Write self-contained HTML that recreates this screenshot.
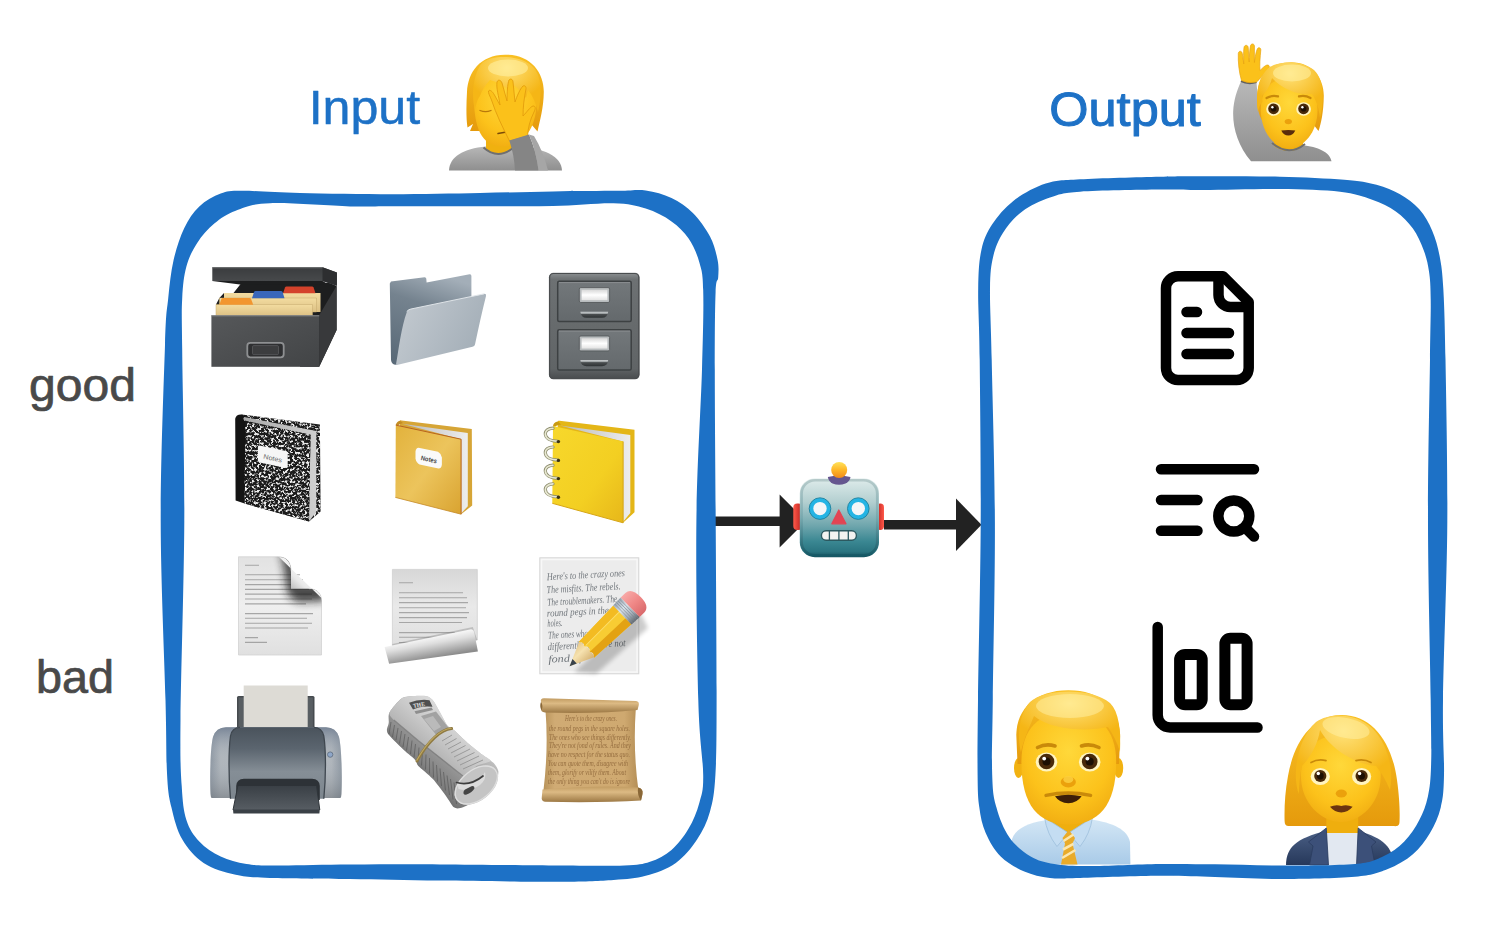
<!DOCTYPE html>
<html lang="en"><head><meta charset="utf-8"><title>Input / Output diagram</title>
<style>
html,body{margin:0;padding:0;background:#fff;width:1488px;height:933px;overflow:hidden}
svg{display:block;position:absolute;left:0;top:0}
text{font-family:"Liberation Sans",sans-serif}
.sf,.sf text{font-family:"Liberation Serif",serif}
</style></head><body>
<svg width="1488" height="933" viewBox="0 0 1488 933">
<!-- defs -->
<defs>
<linearGradient id="rbBody" x1="0" y1="0" x2="0" y2="1">
<stop offset="0" stop-color="#dfeceb"/><stop offset=".3" stop-color="#b3cfd0"/><stop offset=".6" stop-color="#6fa6ad"/><stop offset=".8" stop-color="#3a8792"/><stop offset=".93" stop-color="#2a7480"/><stop offset="1" stop-color="#154f5b"/>
</linearGradient>
<linearGradient id="rbBall" x1="0" y1="0" x2="0" y2="1"><stop offset="0" stop-color="#ffe25a"/><stop offset=".5" stop-color="#ffb627"/><stop offset="1" stop-color="#f08a1c"/></linearGradient>
<linearGradient id="rbEar" x1="0" y1="0" x2="1" y2="0"><stop offset="0" stop-color="#ff5a4a"/><stop offset="1" stop-color="#b81c1c"/></linearGradient>
<linearGradient id="rbEarR" x1="1" y1="0" x2="0" y2="0"><stop offset="0" stop-color="#ff5a4a"/><stop offset="1" stop-color="#b81c1c"/></linearGradient>
<radialGradient id="skin" cx=".5" cy=".35" r=".75"><stop offset="0" stop-color="#ffd83a"/><stop offset=".6" stop-color="#fcc21b"/><stop offset="1" stop-color="#eda60f"/></radialGradient>
<linearGradient id="hair" x1="0" y1="0" x2="0" y2="1"><stop offset="0" stop-color="#f9c022"/><stop offset="1" stop-color="#e59a0c"/></linearGradient>
<radialGradient id="hairHi" cx=".5" cy=".2" r=".6"><stop offset="0" stop-color="#ffe27a"/><stop offset="1" stop-color="#f5b616"/></radialGradient>
<linearGradient id="greyShirt" x1="0" y1="0" x2="0" y2="1"><stop offset="0" stop-color="#b8b8b8"/><stop offset="1" stop-color="#8f8f8f"/></linearGradient>
<linearGradient id="blueShirt" x1="0" y1="0" x2="0" y2="1"><stop offset="0" stop-color="#d3e6f5"/><stop offset="1" stop-color="#a9cbe8"/></linearGradient>
<linearGradient id="navy" x1="0" y1="0" x2="0" y2="1"><stop offset="0" stop-color="#4a5f85"/><stop offset="1" stop-color="#26385a"/></linearGradient>
</defs>
<defs>
<linearGradient id="cbFront" x1="0" y1="0" x2="1" y2="1"><stop offset="0" stop-color="#56585a"/><stop offset="1" stop-color="#424446"/></linearGradient>
<linearGradient id="cbLid" x1="0" y1="0" x2="0" y2="1"><stop offset="0" stop-color="#3a3c3e"/><stop offset="1" stop-color="#4c4e50"/></linearGradient>
<linearGradient id="tan" x1="0" y1="0" x2="0" y2="1"><stop offset="0" stop-color="#f3dca0"/><stop offset="1" stop-color="#dcc084"/></linearGradient>
<linearGradient id="fdBack" x1=".6" y1="0" x2=".3" y2="1"><stop offset="0" stop-color="#a3aeb8"/><stop offset=".35" stop-color="#75838f"/><stop offset="1" stop-color="#5a6a78"/></linearGradient>
<linearGradient id="fdFront" x1="0" y1=".3" x2="1" y2=".7"><stop offset="0" stop-color="#c2c9cf"/><stop offset=".5" stop-color="#b2bbc3"/><stop offset="1" stop-color="#a2adb6"/></linearGradient>
<linearGradient id="cabBody" x1="0" y1="0" x2="0" y2="1"><stop offset="0" stop-color="#8c9092"/><stop offset=".06" stop-color="#6d7173"/><stop offset=".9" stop-color="#606466"/><stop offset="1" stop-color="#484b4d"/></linearGradient>
<linearGradient id="cabDr" x1="0" y1="0" x2="0" y2="1"><stop offset="0" stop-color="#73787b"/><stop offset="1" stop-color="#64696c"/></linearGradient>
<linearGradient id="cabLbl" x1="0" y1="0" x2="0" y2="1"><stop offset="0" stop-color="#d9d9d9"/><stop offset=".5" stop-color="#ffffff"/><stop offset="1" stop-color="#e3e3e3"/></linearGradient>
<linearGradient id="cabHd" x1="0" y1="0" x2="0" y2="1"><stop offset="0" stop-color="#cdd1d3"/><stop offset=".28" stop-color="#9da2a4"/><stop offset=".42" stop-color="#4a4e50"/><stop offset="1" stop-color="#2e3234"/></linearGradient>
</defs>
<defs>
<filter id="marble" x="0" y="0" width="1" height="1" color-interpolation-filters="sRGB">
<feTurbulence type="fractalNoise" baseFrequency="0.42" numOctaves="2" seed="7" result="n"/>
<feColorMatrix in="n" type="matrix" values="0 0 0 0 0  0 0 0 0 0  0 0 0 0 0  6 0 0 0 -2.88" result="a"/>
<feFlood flood-color="#ececec"/><feComposite in2="a" operator="in" result="w"/>
<feComposite in="w" in2="SourceGraphic" operator="in" result="wc"/>
<feMerge><feMergeNode in="SourceGraphic"/><feMergeNode in="wc"/></feMerge>
</filter>
<linearGradient id="nbY" x1="0" y1="0" x2="1" y2="1"><stop offset="0" stop-color="#e2b23c"/><stop offset=".5" stop-color="#ecc45c"/><stop offset="1" stop-color="#d9a330"/></linearGradient>
<linearGradient id="nbPages" x1="0" y1="0" x2="1" y2="0"><stop offset="0" stop-color="#b9b9b9"/><stop offset="1" stop-color="#ededed"/></linearGradient>
<linearGradient id="spY" x1="0" y1="0" x2="1" y2="1"><stop offset="0" stop-color="#f7d82c"/><stop offset=".6" stop-color="#f3cf22"/><stop offset="1" stop-color="#e7b71a"/></linearGradient>
</defs>
<defs>
<linearGradient id="pgFill" x1="0" y1="0" x2="0" y2="1"><stop offset="0" stop-color="#e2e2e2"/><stop offset=".5" stop-color="#efefef"/><stop offset="1" stop-color="#e0e0e0"/></linearGradient>
<radialGradient id="curlSh" cx="300" cy="578" r="34" gradientUnits="userSpaceOnUse"><stop offset="0" stop-color="#3c3c3c" stop-opacity=".95"/><stop offset=".45" stop-color="#555" stop-opacity=".6"/><stop offset="1" stop-color="#888" stop-opacity="0"/></radialGradient>
<linearGradient id="curlFlap" x1="291" y1="589" x2="306" y2="573" gradientUnits="userSpaceOnUse"><stop offset="0" stop-color="#bdbdbd"/><stop offset=".5" stop-color="#e9e9e9"/><stop offset="1" stop-color="#f7f7f7"/></linearGradient>
<linearGradient id="rollG" x1="430" y1="636" x2="434" y2="658" gradientUnits="userSpaceOnUse"><stop offset="0" stop-color="#fbfbfb"/><stop offset=".35" stop-color="#dedede"/><stop offset="1" stop-color="#8c8c8c"/></linearGradient>
<linearGradient id="pcBody" x1="0" y1="-11" x2="0" y2="11" gradientUnits="userSpaceOnUse"><stop offset="0" stop-color="#f4b81c"/><stop offset=".3" stop-color="#f9c62a"/><stop offset=".33" stop-color="#fddc60"/><stop offset=".62" stop-color="#fbd246"/><stop offset=".66" stop-color="#eba514"/><stop offset="1" stop-color="#dd930c"/></linearGradient>
<linearGradient id="pcEr" x1="0" y1="-13.5" x2="0" y2="13.5" gradientUnits="userSpaceOnUse"><stop offset="0" stop-color="#f7a8a6"/><stop offset=".5" stop-color="#ef8786"/><stop offset="1" stop-color="#d96a6c"/></linearGradient>
<linearGradient id="pcFe" x1="0" y1="-13.5" x2="0" y2="13.5" gradientUnits="userSpaceOnUse"><stop offset="0" stop-color="#9aa6b2"/><stop offset=".35" stop-color="#d9e2ea"/><stop offset=".7" stop-color="#a4aeb8"/><stop offset="1" stop-color="#5f666d"/></linearGradient>
<linearGradient id="pcWood" x1="0" y1="-11" x2="0" y2="11" gradientUnits="userSpaceOnUse"><stop offset="0" stop-color="#e6c88a"/><stop offset=".4" stop-color="#f6e2b0"/><stop offset="1" stop-color="#d4b070"/></linearGradient>
<linearGradient id="prBody" x1="0" y1="0" x2="0" y2="1"><stop offset="0" stop-color="#4a535c"/><stop offset=".3" stop-color="#5b656f"/><stop offset=".62" stop-color="#858e96"/><stop offset="1" stop-color="#7d868e"/></linearGradient>
<linearGradient id="prSideL" x1="0" y1="0" x2="1" y2="0"><stop offset="0" stop-color="#8d97a2"/><stop offset=".08" stop-color="#b0b6bc"/><stop offset=".5" stop-color="#b4babf"/><stop offset=".92" stop-color="#b0b6bc"/><stop offset="1" stop-color="#8d97a2"/></linearGradient>
<linearGradient id="prSideV" x1="0" y1="0" x2="0" y2="1"><stop offset="0" stop-color="#66758a" stop-opacity=".75"/><stop offset=".45" stop-color="#b0b8c0" stop-opacity="0"/><stop offset="1" stop-color="#6c7278" stop-opacity=".55"/></linearGradient>
<linearGradient id="prTray" x1="0" y1="0" x2="0" y2="1"><stop offset="0" stop-color="#3a4046"/><stop offset="1" stop-color="#575d63"/></linearGradient>
<linearGradient id="npBody" x1="462" y1="728" x2="420" y2="776" gradientUnits="userSpaceOnUse"><stop offset="0" stop-color="#c6c6c6"/><stop offset=".45" stop-color="#9e9e9e"/><stop offset="1" stop-color="#757575"/></linearGradient>
<linearGradient id="npFlap" x1="462" y1="722" x2="432" y2="758" gradientUnits="userSpaceOnUse"><stop offset="0" stop-color="#dcdcdc"/><stop offset=".5" stop-color="#c9c9c9"/><stop offset="1" stop-color="#b0b0b0"/></linearGradient>
<linearGradient id="scBody" x1="0" y1="0" x2="1" y2="0"><stop offset="0" stop-color="#b8935a"/><stop offset=".12" stop-color="#d0ab74"/><stop offset=".85" stop-color="#cfa970"/><stop offset="1" stop-color="#b48e56"/></linearGradient>
<linearGradient id="scRoll" x1="0" y1="0" x2="0" y2="1"><stop offset="0" stop-color="#c29c62"/><stop offset=".35" stop-color="#dcba84"/><stop offset="1" stop-color="#9c7844"/></linearGradient>
</defs>
<defs><filter id="blur2" x="-.2" y="-.2" width="1.4" height="1.4"><feGaussianBlur stdDeviation="2.2"/></filter><filter id="blur4" x="-.4" y="-.4" width="1.8" height="1.8"><feGaussianBlur stdDeviation="4.2"/></filter><filter id="blur1" x="-.2" y="-.2" width="1.4" height="1.4"><feGaussianBlur stdDeviation="1"/></filter></defs>
<defs><linearGradient id="pgFill2" x1="0" y1="0" x2="0" y2="1"><stop offset="0" stop-color="#d7d7d7"/><stop offset=".45" stop-color="#e9e9e9"/><stop offset="1" stop-color="#dedede"/></linearGradient></defs>
<defs><linearGradient id="rbRim" x1="0" y1="0" x2="0" y2="1"><stop offset="0" stop-color="#b4c9c9"/><stop offset=".5" stop-color="#6c9fa6" stop-opacity=".6"/><stop offset="1" stop-color="#165966"/></linearGradient></defs>
<defs><linearGradient id="nbPagesD" x1="0" y1="0" x2="1" y2="0"><stop offset="0" stop-color="#a8a8a8"/><stop offset="1" stop-color="#cfcfcf"/></linearGradient></defs>

<!-- text -->
<g fill="#1d71c6" stroke="#1d71c6" stroke-linejoin="round" font-size="47.5">
<text x="308.7" y="124" textLength="111.5" lengthAdjust="spacingAndGlyphs" stroke-width=".5">Input</text>
<text x="1049.3" y="126.2" textLength="151.5" lengthAdjust="spacingAndGlyphs" stroke-width="1">Output</text>
</g>
<g fill="#494949" stroke="#494949" stroke-width=".7" stroke-linejoin="round" font-size="45.5">
<text x="29" y="400.5" textLength="107" lengthAdjust="spacingAndGlyphs">good</text>
<text x="36" y="692.5" textLength="78" lengthAdjust="spacingAndGlyphs">bad</text>
</g>

<!-- arrows -->
<g fill="#222">
<rect x="714" y="516.5" width="70" height="9.5"/>
<path d="M779.6,494.5 L806,521 L779.6,547.5Z"/>
<rect x="884" y="520" width="76" height="9.5"/>
<path d="M956,498.5 L981.5,524.8 L956,551Z"/>
</g>

<!-- lineicons -->
<g fill="none" stroke="#000" stroke-width="10.5" stroke-linecap="round" stroke-linejoin="round">
<!-- document -->
<path d="M1178,276.300 H1223 L1248.7,302 V368 a12,12 0 0 1 -12,12 H1178 a12,12 0 0 1 -12,-12 V288.300 a12,12 0 0 1 12,-12Z"/>
<path d="M1218.500,277 V295 a12,12 0 0 0 12,12 H1247.500"/>
<path d="M1186.5,312 H1197 M1186.5,333 H1229 M1186.5,354 H1229"/>
<!-- search list -->
<path d="M1161,469.3 H1254 M1161,500 H1197.5 M1161,530.8 H1197.5"/>
<circle cx="1233.8" cy="516" r="15.5"/>
<path d="M1245,527.5 L1254,536.5"/>
<!-- bar chart -->
<path d="M1157.7,627 V715 a12.5,12.5 0 0 0 12.5,12.5 H1257.5"/>
<rect x="1179.6" y="654.4" width="22.6" height="50.4" rx="5.500" stroke-width="11"/>
<rect x="1224.9" y="638.2" width="22.2" height="66.6" rx="5.500" stroke-width="11"/>
</g>

<!-- robot -->
<g>
<rect x="793.3" y="503.5" width="9" height="26.5" rx="4" fill="url(#rbEar)"/>
<rect x="876.5" y="503.5" width="7.5" height="26.5" rx="3.7" fill="url(#rbEarR)"/>
<rect x="799.8" y="478.4" width="79.2" height="78.8" rx="15" fill="url(#rbBody)"/>
<rect x="801.600" y="480.200" width="75.600" height="75.200" rx="13.500" fill="none" stroke="url(#rbRim)" stroke-width="2.600"/>
<path d="M827.800,477 Q839,474.500 850.500,477 Q850,481 845.500,483.600 Q839,486 832.500,483.600 Q828.500,481 827.800,477Z" fill="#65568f"/>
<circle cx="839.2" cy="470" r="8" fill="url(#rbBall)"/>
<circle cx="820" cy="508.6" r="8.7" fill="#f4f6f8" stroke="#25b4e4" stroke-width="4"/>
<circle cx="858.3" cy="508.6" r="8.7" fill="#f4f6f8" stroke="#25b4e4" stroke-width="4"/>
<circle cx="820" cy="508.6" r="10.800" fill="none" stroke="#1a7f9c" stroke-width=".9"/>
<circle cx="858.3" cy="508.6" r="10.800" fill="none" stroke="#1a7f9c" stroke-width=".9"/>
<path d="M838.8,510 L846,523.8 H831.8Z" fill="#e24453" stroke="#e24453" stroke-width="1.2" stroke-linejoin="round"/>
<rect x="821.4" y="530.8" width="35" height="9.4" rx="4.7" fill="#f3f3f1" stroke="#2c5960" stroke-width="1.4"/>
<path d="M829.4,531 V540 M838.9,531 V540 M848.3,531 V540" stroke="#2c5960" stroke-width="1.3"/>
</g>

<!-- people -->
<!-- facepalm -->
<g>
<path d="M449,170.4 C449.5,157 463,148.5 486,146.5 L512,146 C545,147 561.5,157 562,170.4Z" fill="url(#greyShirt)"/>
<path d="M486,136 H512 V149 Q498,159 486,149Z" fill="#f0b10f"/>
<path d="M483.5,147.5 Q498,160.5 513.5,147.5" fill="none" stroke="#6f6f6f" stroke-width="2"/>
<path d="M505,54.7 C530,54 544,72 543.8,92 C543.6,108 540,120 537.5,131.5 L531,124 L529,131 L470,131 L473,124 L467.5,127.5 C466,118 466.3,104 467,92 C468,72 480,55 505,54.7Z" fill="url(#hair)"/>
<path d="M474,100 C474,82 485,72 504,72 C524,72 536.3,84 536.3,104 C536.3,130 521,146.500 503,146.500 C485,146.500 474.500,134 474,100Z" fill="url(#skin)"/>
<path d="M483,62 C494,54 522,55 534,68 C542,78 542,95 538,112 C536,104 533,96 528,90 L526,98 C522,92 516,86 510,83 L511,92 C505,86 498,82 490,80 C486,84 482,90 480,96 C478,98 476,104 475,110 C471,96 473,72 483,62Z" fill="url(#hairHi)"/>
<ellipse cx="508" cy="68" rx="20" ry="8.5" fill="#fff2a8" opacity=".55"/>
<path d="M480,110.5 Q485.5,112.8 491,110.5" fill="none" stroke="#b8780a" stroke-width="1.3" stroke-linecap="round"/>
<path d="M498,133.5 L505,132.3" fill="none" stroke="#7a4a08" stroke-width="1.5" stroke-linecap="round"/>
<path d="M509.5,141 C503,128 496,114 491.5,100 C490,96 488,93 488.5,91 C490,89 493,92 495,96 L500,105 C499,97 496,88 497,82 C498,79 501,80 502,83 L507,101 C507,93 507.5,84 509,80 C510.5,78 513,79.5 513,82 L515,102 C517,96 520,89 523,86 C525,85 526.5,87 526,89 C524,98 523,108 523,116 C527,112 530,107 533,106 C536,106 535.5,109 534,112 C530,120 528,128 527.5,136 L509.5,141Z" fill="#fbc11a" stroke="#e39d0c" stroke-width=".9" stroke-linejoin="round"/>
<path d="M509.3,140.5 L529,134.5 C534,146 537,158 538.5,170.4 L515,170.4 C514.5,160 512.5,150 509.3,140.5Z" fill="#858585"/>
<path d="M529,134.5 C534,146 537,158 538.5,170.4 L548,170.4 C545,158 540,146 534,136Z" fill="#a6a6a6"/>
</g>
<!-- raising hand -->
<g>
<path d="M1241,81.5 L1256.5,82.5 C1257.5,100 1262,118 1272,130 C1282,140 1296,144 1302,145 C1318,147 1330,152 1331.5,161.3 L1251,161.3 C1238,146 1232.5,128 1233.2,111 C1233.8,100 1237,90 1241,81.5Z" fill="url(#greyShirt)"/>
<path d="M1241,81 Q1248,84.5 1256.5,82" fill="none" stroke="#5f5f5f" stroke-width="2.2"/>
<path d="M1241.5,80.5 C1239,72 1238,62 1238.3,53.5 C1238.6,50.5 1241.8,50.5 1242.3,53.5 L1243.8,64 C1243.6,58 1243.4,52 1244,47.5 C1244.5,44.6 1247.8,44.6 1248.2,47.5 L1249.2,62 C1249.4,56 1249.6,49.5 1250.5,45.8 C1251,43.2 1254.3,43.4 1254.4,46 L1254.4,62.5 C1255,57 1256,52 1257.3,49 C1258.3,46.8 1261,47.6 1260.8,50 C1260,58 1259.5,65 1260,70.5 C1262.5,68 1265,65.5 1267,65 C1269.5,64.7 1270,67 1268.6,68.8 C1264,74.5 1260,79 1256.5,82 Q1248.5,84 1241.5,80.5Z" fill="#fbc11a" stroke="#e8a40e" stroke-width=".7"/>
<path d="M1274,130 H1303 V146 Q1289,156 1274,146Z" fill="#efae0e"/>
<path d="M1272,143 Q1289,157 1305,144" fill="none" stroke="#6f6f6f" stroke-width="2"/>
<path d="M1291,62.2 C1312,62 1324,78 1323.8,96 C1323.6,112 1321,124 1318.5,131 L1313,124 L1262,120 C1257,112 1256.5,100 1257.5,92 C1259,74 1270,62.4 1291,62.2Z" fill="url(#hair)"/>
<path d="M1260.800,110 C1260.800,90 1271,78 1289,78 C1306,78 1317.5,90 1317.5,110 C1317.5,133 1303,148.200 1289,148.200 C1275,148.200 1260.800,133 1260.800,110Z" fill="url(#skin)"/>
<path d="M1268.5,68 C1278,60.5 1302,60 1314,70 C1323,78 1325,98 1320,118 C1319,108 1316,100 1312,94 C1300,96 1283,90 1272,78 C1270,86 1266,92 1262,96 L1262.5,102 C1260,104 1258.5,108 1258,112 C1255.5,98 1257,78 1268.5,68Z" fill="url(#hairHi)"/>
<ellipse cx="1292" cy="73" rx="19" ry="8.5" fill="#fff2a8" opacity=".55"/>
<ellipse cx="1273.6" cy="109" rx="7.4" ry="6.8" fill="#fff4c0"/><ellipse cx="1303.6" cy="109" rx="7.4" ry="6.8" fill="#fff4c0"/>
<circle cx="1273.6" cy="108.8" r="5.4" fill="#4a2a0a"/><circle cx="1303.6" cy="108.8" r="5.4" fill="#4a2a0a"/><circle cx="1273.6" cy="108.8" r="2.800" fill="#1c0f03"/><circle cx="1303.6" cy="108.8" r="2.800" fill="#1c0f03"/>
<circle cx="1272.4" cy="107.2" r="1.2" fill="#fff"/><circle cx="1302.4" cy="107.2" r="1.2" fill="#fff"/>
<path d="M1266.5,98 Q1272,94.800 1278,96.400 M1299,96.400 Q1305,94.800 1310.5,98" fill="none" stroke="#c98a0a" stroke-width="2.200" stroke-linecap="round"/>
<ellipse cx="1288.3" cy="121.6" rx="3.6" ry="2.6" fill="#eba10c"/>
<path d="M1281.3,130.6 Q1288.3,129.6 1295.3,130.6 Q1293,135.6 1288.3,135.6 Q1283.6,135.6 1281.3,130.6Z" fill="#5a2d0c"/>
</g>
<!-- man office worker -->
<g>
<path d="M1011.2,864.5 L1011.4,842 C1013,830 1026,822.500 1050,819.500 L1090,819.500 C1114,822.500 1127.500,830 1130,842 L1130.4,864.5Z" fill="url(#blueShirt)"/>
<path d="M1049,812 H1088 V826 Q1068,842 1049,826Z" fill="#efae0e"/>
<path d="M1044.5,817.5 L1068.5,833 L1057,846.5 Q1047,834 1044.5,817.5Z M1092.5,817.5 L1068.5,833 L1080,846.5 Q1090,834 1092.5,817.5Z" fill="#c4ddf2" stroke="#9dbfdc" stroke-width=".8"/>
<path d="M1068.8,830 L1075,838 L1072.5,843.5 L1077.5,864.5 H1061 L1065,843.5 L1062.5,838Z" fill="#e9ab2a"/>
<path d="M1063.5,841 L1073.5,834.5 M1062,858 L1075.5,850 M1063,849.5 L1073.5,843.8" stroke="#fbe7b0" stroke-width="2.6" fill="none"/>
<ellipse cx="1018.6" cy="768" rx="4.6" ry="10" fill="#f2b211"/><ellipse cx="1118.6" cy="768" rx="4.6" ry="10" fill="#f2b211"/>
<path d="M1068,690.3 C1100,690 1119,708 1120.2,735 L1119,764 L1017.5,764 L1016.3,735 C1017,708 1036,690.5 1068,690.3Z" fill="url(#hair)"/>
<path d="M1021.4,762 C1021.4,728 1040,712 1068.5,712 C1097,712 1116.2,728 1116.2,762 C1116.2,806 1098,824.5 1068.5,824.5 C1039,824.5 1021.4,806 1021.4,762Z" fill="url(#skin)"/>
<path d="M1030,702 C1044,688.5 1092,687 1110,703 C1119,712 1121,730 1120,752 C1117,742 1113,734 1108,727 C1088,732 1050,730 1034,716 C1030,726 1024,738 1021,752 C1017,736 1019,714 1030,702Z" fill="url(#hairHi)"/>
<ellipse cx="1070" cy="706" rx="34" ry="12" fill="#fff2a8" opacity=".5"/>
<ellipse cx="1046.5" cy="762" rx="10.8" ry="9.4" fill="#fff4c0"/><ellipse cx="1089.7" cy="762" rx="10.8" ry="9.4" fill="#fff4c0"/>
<circle cx="1046.5" cy="761.5" r="7.8" fill="#4a2a0a"/><circle cx="1089.7" cy="761.5" r="7.8" fill="#4a2a0a"/>
<circle cx="1046.5" cy="761.5" r="4" fill="#1c0f03"/><circle cx="1089.7" cy="761.5" r="4" fill="#1c0f03"/>
<circle cx="1044.2" cy="758.6" r="1.9" fill="#fff"/><circle cx="1087.4" cy="758.6" r="1.9" fill="#fff"/>
<path d="M1037.5,747.5 Q1046,743.2 1055,746 M1081.5,746 Q1090,743.2 1099,747.5" fill="none" stroke="#c98a0a" stroke-width="3.6" stroke-linecap="round"/>
<ellipse cx="1068.3" cy="782" rx="7.6" ry="5.4" fill="#eba10c"/><ellipse cx="1068.3" cy="779.5" rx="5" ry="3.4" fill="#ffd84a" opacity=".7"/>
<path d="M1046,795.4 Q1068.3,790.5 1090.6,795.4" fill="none" stroke="#c98a0a" stroke-width="3.4" stroke-linecap="round"/>
<path d="M1055,796.3 Q1068.3,793.3 1081.6,796.3 Q1077,803.2 1068.3,803.2 Q1059.6,803.2 1055,796.3Z" fill="#3d1f08"/>
</g>
<!-- woman office worker -->
<g>
<path d="M1341,715 C1372,714.5 1392,742 1397,780 C1399.5,798 1400,812 1399.5,822 C1399.4,826 1397,826.5 1393,826 L1290,826 C1286,826.5 1284.7,825 1284.6,821 C1284.2,808 1285,792 1288,776 C1294,742 1312,715.5 1341,715Z" fill="url(#hair)"/>
<path d="M1286,865 C1286,848 1296,838 1326,831 L1358.5,831 C1384,838 1393,848 1393.5,865Z" fill="url(#navy)"/>
<path d="M1326.3,815 H1358.2 V834 H1326.3Z" fill="#efae0e"/>
<path d="M1326.3,833 H1358.2 L1357,865 H1328Z" fill="#e2e8f1"/>
<path d="M1326.3,828 L1328.5,865 H1309.5 L1313,846 L1308.5,842Z M1358.2,828 L1356.5,865 H1375 L1371.5,846 L1376,842Z" fill="#3c5079" stroke="#2b3c60" stroke-width=".8"/>
<path d="M1301,776 C1301,748 1318,735 1341,735 C1364,735 1380.7,748 1380.7,776 C1380.7,804 1360,822 1341,822 C1322,822 1301,804 1301,776Z" fill="url(#skin)"/>
<path d="M1316,722 C1330,712 1356,713 1372,728 C1388,744 1394,770 1390,790 C1386,780 1381,772 1376,766 C1354,764 1330,748 1320,730 C1318,744 1310,758 1302,766 C1300,774 1299,784 1299,794 C1292,778 1296,740 1316,722Z" fill="url(#hairHi)"/>
<ellipse cx="1346" cy="728" rx="24" ry="10" fill="#fff2a8" opacity=".5" transform="rotate(12 1346 728)"/>
<ellipse cx="1320.3" cy="776.5" rx="9.6" ry="8.6" fill="#fff4c0"/><ellipse cx="1361.6" cy="776.5" rx="9.6" ry="8.6" fill="#fff4c0"/>
<circle cx="1320.3" cy="776" r="6.1" fill="#4a2a0a"/><circle cx="1361.6" cy="776" r="6.1" fill="#4a2a0a"/>
<circle cx="1320.3" cy="776" r="3.4" fill="#1c0f03"/><circle cx="1361.6" cy="776" r="3.4" fill="#1c0f03"/>
<circle cx="1318.3" cy="773.5" r="1.7" fill="#fff"/><circle cx="1359.6" cy="773.5" r="1.7" fill="#fff"/>
<path d="M1311,762.5 Q1318,758.6 1326,760.6 M1356,760.6 Q1364,758.6 1371,762.5" fill="none" stroke="#c98a0a" stroke-width="1.7" stroke-linecap="round"/>
<ellipse cx="1341.3" cy="793.5" rx="5.6" ry="4" fill="#eba10c"/>
<path d="M1330,806.8 Q1336,804 1341.3,806 Q1346.6,804 1352.6,806.8 Q1348,812.4 1341.3,812.4 Q1334.6,812.4 1330,806.8Z" fill="#6b3510"/>
</g>

<!-- row1 -->
<!-- card file box -->
<g>
<path d="M241,283.500 L330,283 L336.6,286 V330 L319.2,366.8 H300 V316 H216 V304.500 L219.400,298 L224,293 H233.500Z" fill="#1d1e1f"/>
<path d="M319.2,315.3 L336.6,285.8 V330 L319.2,366.8Z" fill="#38393b"/>
<path d="M224,293 H320.5 V312 H224Z" fill="url(#tan)"/>
<path d="M283,293.2 L285,287.4 Q285.4,286.5 286.5,286.5 H312 Q313.2,286.5 313.6,287.4 L315.5,293.2Z" fill="#d4422b"/>
<path d="M219.4,298 H316.5 V312 H219.4Z" fill="url(#tan)" stroke="#c4a86c" stroke-width=".5"/>
<path d="M252,298.2 L254,292 Q254.4,291 255.5,291 H281 Q282.2,291 282.6,292 L284.5,298.2Z" fill="#3a67ba"/>
<path d="M216,304.5 H312.5 V316 H216Z" fill="url(#tan)" stroke="#c4a86c" stroke-width=".5"/>
<path d="M219.4,304.7 L221.4,299 Q221.8,298 222.9,298 H249.5 Q250.7,298 251.1,299 L253.2,304.7Z" fill="#f2962f"/>
<rect x="211.4" y="315.3" width="107.8" height="51.5" fill="url(#cbFront)"/>
<path d="M211.4,315.8 H319.2" stroke="#8a8c8e" stroke-width="1"/>
<rect x="247.3" y="342.9" width="36.4" height="14.4" rx="3" fill="#2e2f31" stroke="#8e9092" stroke-width="1.8"/>
<rect x="252.5" y="345.6" width="26" height="9" rx="1.2" fill="#3c3d3f" stroke="#5d5f61" stroke-width=".7"/>
<path d="M212.3,267.3 H322.5 L336.9,272.4 V285.8 L322.5,281 H212.3Z" fill="url(#cbLid)"/>
<path d="M322.5,267.3 L336.9,272.4 V285.8 L322.5,281Z" fill="#2d2e30"/>
<path d="M212.3,281 H322.5 L328,284 L240,284.500Z" fill="#1d1e1f"/>
<path d="M212.3,267.8 H322.5" stroke="#6a6c6e" stroke-width=".9"/>
</g>
<!-- open folder -->
<g>
<path d="M389.8,283.6 L391,281.6 L424.5,277.2 Q426.2,277.1 426.3,278.8 L426.6,282.6 L469.6,274.3 Q471.4,274.1 471.4,276 L471.4,340 L396,364.8 Q391.5,364.6 391,360Z" fill="url(#fdBack)"/>
<path d="M396,364.6 C399,348 401,328 407,311.5 Q408,309.4 411,309 L484,293.9 Q486.6,293.6 486,296 C482,312 478.5,328 475,344.5 Q474.6,346.2 472.5,346.8 L399,364.6 Q397,365 396,364.6Z" fill="url(#fdFront)"/>
<path d="M407,311.5 Q408,309.4 411,309 L484,293.9" fill="none" stroke="#dfe4e8" stroke-width="1"/>
</g>
<!-- file cabinet -->
<g>
<rect x="548.9" y="272.8" width="90.6" height="106.4" rx="4.5" fill="url(#cabBody)"/>
<rect x="549.6" y="273.5" width="89.2" height="105" rx="4" fill="none" stroke="#4a4d4f" stroke-width="1.2"/>
<rect x="557.7" y="281.2" width="73.5" height="40.4" rx="1.5" fill="url(#cabDr)" stroke="#3d4143" stroke-width="1.5"/>
<rect x="557.7" y="329.7" width="73.5" height="40.4" rx="1.5" fill="url(#cabDr)" stroke="#3d4143" stroke-width="1.5"/>
<path d="M559,282.6 H630 M559,331.1 H630" stroke="#8c9193" stroke-width=".9"/>
<rect x="579.3" y="287.6" width="30.3" height="14.9" rx="1.5" fill="#b8bcbe" stroke="#4f5355" stroke-width=".8"/>
<rect x="581.6" y="289.8" width="25.8" height="10.4" fill="url(#cabLbl)"/>
<rect x="579.3" y="336" width="30.3" height="14.9" rx="1.5" fill="#b8bcbe" stroke="#4f5355" stroke-width=".8"/>
<rect x="581.6" y="338.2" width="25.8" height="10.4" fill="url(#cabLbl)"/>
<path d="M580.3,311.8 H608.2 Q607.5,317.8 602,317.8 H586.5 Q581,317.8 580.3,311.8Z" fill="url(#cabHd)"/>
<path d="M580.3,360 H608.2 Q607.5,366.2 602,366.2 H586.5 Q581,366.2 580.3,360Z" fill="url(#cabHd)"/>
</g>

<!-- row2 -->
<!-- composition notebook -->
<g>
<path d="M241.7,414.5 L319.9,424.6 L320.6,511.5 L309,521.6 L244.6,503.5Z" fill="#1b1b1b" filter="url(#marble)"/>
<path d="M240.3,419.5 L243.9,417 L316.3,431.1 L316.3,512.2 L309,521 L310.5,434.7Z" fill="url(#nbPagesD)"/>
<path d="M235.2,418.8 Q236,414.2 241.7,414.5 L246,416.5 Q241,417.5 245.3,421.7 L244.6,503.5 L235.6,500.6Z" fill="#141414"/>
<path d="M245.3,421.7 L310.5,434.7 L309,521.6 L244.6,503.5Z" fill="#1b1b1b" filter="url(#marble)"/>
<path d="M259.5,445.6 L286,451 Q287.6,451.5 287.7,453 L287.7,466.5 Q287.6,468.2 286,468 L259.5,462.5 Q258,462 257.9,460.5 L257.9,447 Q258,445.4 259.5,445.6Z" fill="#f6f6f6"/>
<text x="263" y="458.6" font-size="6.6" fill="#6a6a6a" transform="rotate(11.5 263 458.6)" textLength="19" lengthAdjust="spacingAndGlyphs">Notes</text>
</g>
<!-- notebook with decorative cover -->
<g>
<path d="M400,420.8 Q399,420.2 401.5,420.4 L471.8,429.1 L472.2,505.5 L461.1,514.2 L398,470Z" fill="#d6a536"/>
<path d="M402.1,423.8 L467.8,433.1 L467.8,506.2 L461.1,513.5 L461.1,439.2Z" fill="url(#nbPages)"/>
<path d="M395.8,425.1 Q396.5,421.5 400,420.8 L403,423 Q399,424 397.5,426Z" fill="#c48d24"/>
<path d="M395.8,425.1 L461.1,439.2 L461.1,514.2 L395.4,497.4Z" fill="url(#nbY)"/>
<path d="M395.8,425.1 L461.1,439.2 L461.1,514.2" fill="none" stroke="#b8641f" stroke-width="1"/>
<path d="M395.4,497.4 L461.1,514.2" fill="none" stroke="#c58a28" stroke-width=".8"/>
<path d="M418.5,447.8 L438,451.8 Q441.5,454 441.9,457.5 L441.9,464.5 Q441.5,468.5 438.5,468.4 L419.5,464.4 Q416,462.5 415.5,458.5 L415.5,451.5 Q416,447.8 418.5,447.8Z" fill="#fafafa"/>
<text x="420.4" y="460" font-size="6.6" font-weight="bold" fill="#4a4a4a" transform="rotate(11.5 420.4 460)" textLength="16.5" lengthAdjust="spacingAndGlyphs">Notes</text>
</g>
<!-- spiral notebook -->
<g>
<path d="M557.9,421.4 Q557,420.6 559.5,420.8 L634.5,429.8 L634.5,512.3 L623.1,522.8 L556,470Z" fill="#e4b617"/>
<path d="M560,425.6 L630.3,435 L630.3,513 L623.1,521.8 L623.1,441.5Z" fill="url(#nbPages)"/>
<path d="M553,425.9 Q553.5,422 557.9,421.4 L561,424.4 Q556,425 554.8,427Z" fill="#c99a10"/>
<path d="M553,425.9 L623.1,441.5 L623.1,522.8 L552.3,503.3Z" fill="url(#spY)"/>
<path d="M623.1,441.5 L623.1,522.8 L552.3,503.3" fill="none" stroke="#d6a516" stroke-width="1"/>
<g fill="none" stroke-linecap="round">
<g id="ring"><path d="M558,441.3 C550,441 545.5,438 545.3,434 C545.1,430.5 548.5,428.4 553,428.2" stroke="#8f8f70" stroke-width="3.2"/><path d="M558,441.3 C550,441 545.5,438 545.3,434 C545.1,430.5 548.5,428.4 553,428.2" stroke="#e8e8d2" stroke-width="1.6"/><circle cx="558.4" cy="441.6" r="1.7" fill="#3a3214" stroke="none"/></g>
<use href="#ring" y="18.8"/><use href="#ring" y="37"/><use href="#ring" y="55.7"/>
</g>
</g>

<!-- row3 -->
<!-- page with curl -->
<g>
<path d="M238.5,556.8 H278 C288,557 291,563 291,572 V588.5 H308 C317,589 321.5,593 321.5,601 V655 H238.5Z" fill="url(#pgFill)" stroke="#d2d2d2" stroke-width=".8"/>
<g stroke="#9a9a9a" stroke-width="1.1" opacity=".85">
<path d="M245,565.3 H259 M245,574.8 H300 M245,579.7 H303 M245,584.6 H306 M245,589.4 H309 M245,594.1 H312 M245,599 H312 M245,603.9 H306 M245,613.6 H313 M245,618.3 H307 M245,623.2 H312 M245,628 H308 M245,637.6 H258 M245,642.4 H267"/>
</g>
<clipPath id="pgClip"><path d="M238.5,556.8 H278 C288,557 291,563 291,572 V588.5 H308 C317,589 321.5,593 321.5,601 V655 H238.5Z"/></clipPath>
<g clip-path="url(#pgClip)"><path d="M280,550 L296,556 V584 H324 L326,601 L300,602 Q289,600 287,590 L284,568Z" fill="#1e1e1e" opacity=".8" filter="url(#blur4)"/></g>
<path d="M279,556.9 C288,557.5 291,563 291,572 V588.5 H308 C316,588.8 320.5,592 321.4,598 Z" fill="url(#curlFlap)"/>
</g>
<!-- page facing up -->
<g>
<path d="M392.4,569.4 H477.3 V640 L392.4,652Z" fill="url(#pgFill2)" stroke="#d0d0d0" stroke-width=".8"/>
<g stroke="#9c9c9c" stroke-width="1.1" opacity=".85">
<path d="M399,582.7 H413 M399,592.7 H463 M399,597.7 H467 M399,602.6 H468 M399,607.7 H466 M399,612.6 H469 M399,617.6 H467 M399,622.5 H462 M399,632.6 H455 M399,637.3 H440 M399,642.5 H420"/>
</g>
<path d="M392.4,644 L472.8,627 L477.3,640 L392.4,656Z" fill="#777" opacity=".35"/>
<path d="M384.6,647 L470,629.4 Q473.5,628.8 474.2,632 L477.9,651.5 L389.1,663.7Z" fill="url(#rollG)"/>
</g>
<!-- memo -->
<g>
<rect x="539.8" y="557.8" width="99" height="116" fill="#ececec" stroke="#d6d6d6" stroke-width="1"/>
<rect x="541.5" y="559.5" width="95.6" height="112.6" fill="none" stroke="#f8f8f8" stroke-width="1.6"/>
<g class="sf" font-style="italic" font-size="10.5" fill="#555b62" opacity=".82" transform="rotate(-3 590 615)">
<text x="549" y="578" textLength="78" lengthAdjust="spacingAndGlyphs">Here's to the crazy ones</text>
<text x="548" y="591" textLength="74" lengthAdjust="spacingAndGlyphs">The misfits. The rebels.</text>
<text x="548" y="603.5" textLength="70" lengthAdjust="spacingAndGlyphs">The troublemakers. The</text>
<text x="547" y="614.5" textLength="62" lengthAdjust="spacingAndGlyphs">round pegs in the</text>
<text x="547" y="624.5" textLength="15" lengthAdjust="spacingAndGlyphs">holes.</text>
<text x="547" y="636.5" textLength="40" lengthAdjust="spacingAndGlyphs">The ones who</text>
<text x="546" y="648" textLength="78" lengthAdjust="spacingAndGlyphs">differently. They're not</text>
<text x="546" y="660.5" textLength="34" lengthAdjust="spacingAndGlyphs">fond of</text>
</g>
<path d="M574,672 L596,674 L648,628 L640,612Z" fill="#000" opacity=".2" filter="url(#blur2)"/>
<g transform="translate(569.6 666.2) rotate(-44.2)">
<path d="M0,0 L24.4,-11 L26,0 L24.4,11Z" fill="url(#pcWood)"/>
<path d="M0,0 L7,-3.1 L7,3.1Z" fill="#39434c"/>
<path d="M23.4,-11 L73.5,-13 V13 L23.4,11 Q27.5,7.5 24.6,3.8 Q28.6,0 24.6,-3.8 Q27.5,-7.5 23.4,-11Z" fill="#f8cc33"/>
<path d="M23.4,-11 L73.5,-13 V-4.6 L24.6,-3.8 Q27.5,-7.5 23.4,-11Z" fill="#f3bb22"/>
<path d="M24.6,3.8 L73.5,4.6 V13 L23.4,11 Q27.5,7.5 24.6,3.8Z" fill="#e3a213"/>
<path d="M26,-3.6 L73.5,-4.4" stroke="#fde27a" stroke-width="1" opacity=".8"/>
<path d="M73.5,-13.2 L84.5,-13.6 V13.6 L73.5,13.2Z" fill="url(#pcFe)"/>
<path d="M75.7,-13.2 V13.2 M78,-13.3 V13.3 M80.3,-13.4 V13.4 M82.6,-13.5 V13.5" stroke="#7b858f" stroke-width=".8" opacity=".75"/>
<path d="M84.5,-13.6 H91 Q99.2,-13.2 99.2,0 Q99.2,13.2 91,13.6 H84.5Z" fill="url(#pcEr)"/>
</g>
</g>
</g>

<!-- row4 -->
<!-- printer -->
<g>
<rect x="237" y="696" width="77.5" height="34" rx="1.5" fill="#464b4f"/>
<rect x="238.6" y="697.5" width="74.3" height="32" fill="#585e62"/>
<rect x="243.7" y="685.5" width="64" height="43" fill="#dddbd5"/>
<path d="M211.800,798 Q210.600,797 210.600,794 C209.800,780 210,750 213,737 Q216,727.5 226,727.3 H326 Q336,727.5 339,737 C342,750 342.200,780 341.400,794 Q341.400,797 340.200,798Z" fill="url(#prSideL)"/>
<path d="M211.800,798 Q210.600,797 210.600,794 C209.800,780 210,750 213,737 Q216,727.5 226,727.3 H326 Q336,727.5 339,737 C342,750 342.200,780 341.400,794 Q341.400,797 340.200,798Z" fill="url(#prSideV)"/>
<path d="M230.5,798.8 C228.5,778 228.5,750 230.5,736 Q232,727.5 240,727.3 H314 Q322,727.5 323.8,736 C326,750 326,778 323.8,798.8Z" fill="url(#prBody)"/>
<path d="M230.5,798.8 C228.5,778 228.5,750 230.5,736 Q232,727.5 240,727.3 M314,727.3 Q322,727.5 323.8,736 C326,750 326,778 323.8,798.8" fill="none" stroke="#3f474f" stroke-width="1.3"/>
<path d="M236.2,800 V786 Q236.5,778.9 244,778.7 H312 Q319.5,778.9 319.8,786 V800Z" fill="#2d3237"/>
<path d="M237.8,786 H316.6 L319.8,810 H233Z" fill="url(#prTray)"/>
<path d="M233,809.5 H319.8 L319.4,813.6 H233.4Z" fill="#3a4046"/>
<path d="M237.8,786 L233,810 M316.6,786 L319.8,810" stroke="#2f353a" stroke-width="1"/>
<circle cx="330.2" cy="754.6" r="2.7" fill="#8ea6c8" stroke="#5c6b7c" stroke-width=".8"/>
</g>
<!-- rolled-up newspaper -->
<g>
<clipPath id="npClip"><path d="M389.5,712.5C391.2,709.2 398.5,700.5 401.8,698.3C405.0,696.1 410.7,696.3 414.1,696.0C417.4,695.7 424.5,695.6 427.1,696.3C429.7,697.0 431.9,699.0 433.6,701.2C435.3,703.4 438.3,709.3 440.1,712.5C441.9,715.7 445.5,723.2 447.3,725.5C449.2,727.9 451.2,727.8 453.9,730.1C456.6,732.5 463.8,739.6 467.6,742.9C471.4,746.1 478.6,751.8 482.1,754.5C485.5,757.2 491.5,760.9 493.7,763.1C495.8,765.4 497.9,768.9 498.3,771.1C498.7,773.3 497.9,777.0 496.5,779.8C495.2,782.6 491.0,789.1 487.9,792.1C484.8,795.1 477.1,800.1 473.4,802.2C469.7,804.3 463.0,807.3 460.4,808.0C457.8,808.7 455.6,808.6 453.9,807.3C452.1,805.9 450.1,801.6 447.3,797.9C444.6,794.1 436.7,783.3 432.9,779.1C429.0,774.8 420.7,768.5 418.4,766.0C416.1,763.5 417.4,762.4 415.5,760.2C413.6,758.1 407.4,753.4 403.9,750.1C400.5,746.8 391.7,738.3 389.5,735.6C387.2,732.9 387.0,731.6 386.9,729.9C386.8,728.2 388.4,725.2 388.7,722.9C389.1,720.6 387.7,715.8 389.5,712.5Z"/></clipPath>
<path d="M389.5,712.5C391.2,709.2 398.5,700.5 401.8,698.3C405.0,696.1 410.7,696.3 414.1,696.0C417.4,695.7 424.5,695.6 427.1,696.3C429.7,697.0 431.9,699.0 433.6,701.2C435.3,703.4 438.3,709.3 440.1,712.5C441.9,715.7 445.5,723.2 447.3,725.5C449.2,727.9 451.2,727.8 453.9,730.1C456.6,732.5 463.8,739.6 467.6,742.9C471.4,746.1 478.6,751.8 482.1,754.5C485.5,757.2 491.5,760.9 493.7,763.1C495.8,765.4 497.9,768.9 498.3,771.1C498.7,773.3 497.9,777.0 496.5,779.8C495.2,782.6 491.0,789.1 487.9,792.1C484.8,795.1 477.1,800.1 473.4,802.2C469.7,804.3 463.0,807.3 460.4,808.0C457.8,808.7 455.6,808.6 453.9,807.3C452.1,805.9 450.1,801.6 447.3,797.9C444.6,794.1 436.7,783.3 432.9,779.1C429.0,774.8 420.7,768.5 418.4,766.0C416.1,763.5 417.4,762.4 415.5,760.2C413.6,758.1 407.4,753.4 403.9,750.1C400.5,746.8 391.7,738.3 389.5,735.6C387.2,732.9 387.0,731.6 386.9,729.9C386.8,728.2 388.4,725.2 388.7,722.9C389.1,720.6 387.7,715.8 389.5,712.5Z" fill="url(#npBody)"/>
<g clip-path="url(#npClip)">
<g stroke="#4f4f4f" stroke-width="1" opacity=".55">
<path d="M391,722 L389,734 M394.5,725 L392.5,737 M398,728 L396,740 M401.500,731 L399.5,743.500 M405,734 L403,747 M408.500,737 L406.500,750.500 M412,740.500 L410.500,754 M415.500,744 L414,757.500 M419,747.500 L418,761.500 M422.500,751 L421.500,765.500 M426,754.500 L425.500,769.500 M429.500,758 L429.500,773.500 M433,761.500 L433.500,777.500 M436.500,765 L437.500,781.500 M440,768.500 L441.500,786 M443.500,772 L445.500,790.500 M447,775.500 L449.500,795 M450.500,779 L453,799.500 M454,782.500 L456.500,804"/>
</g>
<path d="M386,728 L396,742 L418,764 L440,792 L455,810 L440,812 L380,745Z" fill="#5a5a5a" opacity=".45" filter="url(#blur2)"/>
</g>
<path d="M389.5,712.5C390.3,710.3 399.3,700.0 401.8,698.3C404.2,696.7 411.5,696.2 414.1,696.0C416.6,695.8 425.1,695.8 427.1,696.3C429.0,696.8 432.3,699.6 433.6,701.2C434.9,702.8 438.7,710.1 440.1,712.5C441.5,714.9 446.0,723.7 447.3,725.5C448.7,727.3 451.8,728.4 453.9,730.1C455.9,731.9 464.8,740.4 467.6,742.9C470.4,745.3 479.8,752.6 482.1,754.5C484.4,756.3 491.3,759.8 490.8,761.0C490.2,762.1 478.9,764.4 476.3,766.0C473.7,767.7 467.0,777.4 464.7,777.6C462.4,777.8 456.0,770.5 453.1,768.2C450.2,765.9 439.2,756.9 435.8,754.2C432.3,751.4 422.6,744.1 418.4,740.7C414.2,737.3 396.7,722.8 393.8,720.0C390.9,717.2 388.7,714.7 389.5,712.5Z" fill="url(#npFlap)"/>
<path d="M393.8,720 L418.4,740.7 L453.1,768.2 L464.7,777.6" fill="none" stroke="#7c7c7c" stroke-width="1.4" opacity=".8"/>
<path d="M409,702.8 Q419,698.8 429.5,700.2 L432.5,706.8 Q421.5,705.5 413,709.6Z" fill="#4f4f4f"/>
<text x="413.4" y="708" font-size="6" font-weight="bold" class="sf" fill="#e2e2e2" transform="rotate(-10 413.4 708)" textLength="12" lengthAdjust="spacingAndGlyphs">THE</text>
<path d="M414.5,711.2 L431.5,707.600 L433,710 L416,714Z" fill="#8e8e8e"/>
<path d="M421,716 L436,711.5 L449.5,729 L437,736Z" fill="#a2a2a2"/>
<path d="M424,719 L433,716 L441,727 L434,731Z" fill="#c4c4c4" opacity=".7"/>
<g stroke="#8e8e8e" stroke-width=".9" opacity=".9"><path d="M442,741 L452,735 M445,745 L456.500,738.500 M448,749 L461,742 M451,753 L465.500,745.500 M454,757 L470,749 M457,761 L474.500,752.500 M460,765 L479,756 M463,769 L483,760"/></g>
<path d="M451.600,728.600 C441,729.500 428,741 417,761" fill="none" stroke="#8f7a42" stroke-width="3" stroke-linecap="round"/>
<path d="M451.200,728.200 C440.600,729.200 428,740.500 416.800,760.200" fill="none" stroke="#bfa862" stroke-width="1.1" stroke-linecap="round"/>
<ellipse cx="476.300" cy="785" rx="25" ry="15.600" transform="rotate(-38.500 476.300 785)" fill="#c4c4c4"/>
<ellipse cx="476.300" cy="785" rx="24.200" ry="14.800" transform="rotate(-38.500 476.300 785)" fill="none" stroke="#dedede" stroke-width="1.300"/>
<path d="M457,782.500 Q471,786 482.500,776.500 L485,772 Q487,779 480,785 Q470,792 458.500,789Z" fill="#e4e4e4" opacity=".75"/>
<path d="M456.500,782.500 Q470,786.500 483,776" fill="none" stroke="#3e3e3e" stroke-width="1.700" stroke-linecap="round"/>
<path d="M463.500,793.500 Q463,790.500 466,789 L471.500,786.200 Q474.500,785.500 474.500,788.200 Q472.500,792.500 466,794.800 Q464,795 463.500,793.500Z" fill="#454545"/>
</g>
<!-- scroll -->
<g>
<path d="M545.4,709 H635.8 C634,735 634.5,762 638.5,791 H543.4 C547,762 547.5,735 545.4,709Z" fill="url(#scBody)"/>
<g class="sf" font-style="italic" font-size="8" fill="#8a6236" opacity=".85">
<text x="565" y="721.2" textLength="52" lengthAdjust="spacingAndGlyphs">Here's to the crazy ones.</text>
<text x="549" y="730.6" textLength="81" lengthAdjust="spacingAndGlyphs">the round pegs in the square holes.</text>
<text x="549" y="739.6" textLength="82" lengthAdjust="spacingAndGlyphs">The ones who see things differently.</text>
<text x="549" y="748" textLength="82" lengthAdjust="spacingAndGlyphs">They're not fond of rules. And they</text>
<text x="548" y="757.4" textLength="82" lengthAdjust="spacingAndGlyphs">have no respect for the status quo.</text>
<text x="548" y="766.1" textLength="80" lengthAdjust="spacingAndGlyphs">You can quote them, disagree with</text>
<text x="548" y="775.4" textLength="78" lengthAdjust="spacingAndGlyphs">them, glorify or vilify them. About</text>
<text x="548" y="784.2" textLength="82" lengthAdjust="spacingAndGlyphs">the only thing you can't do is ignore</text>
</g>
<path d="M541,702 Q540,698.5 544,698.3 L636,701 Q639.5,701.5 638.8,705 L637.5,710 Q600,714 545,712.6 Q540.5,712 541,708Z" fill="url(#scRoll)"/>
<path d="M541,702 Q543.5,705.5 541.5,710.5 Q539.2,706 541,702Z" fill="#8a6838"/>
<path d="M542.500,789.500 Q600,785 638,787.500 Q643.5,788.500 642.5,794 L641,800.5 Q600,803 545,801.8 Q541,801 541.8,797Z" fill="url(#scRoll)"/>
<path d="M638,787.500 Q643.5,788.500 642.5,794 L641,800.5 Q637,795 638,787.500Z" fill="#8a6838"/>
</g>

<path fill="#1d71c6" fill-rule="evenodd" d="M165.0,345.0C166.2,307.9 166.8,312.8 168.2,298.6C169.6,284.4 170.9,271.8 173.6,260.0C176.3,248.2 180.0,236.8 184.3,227.9C188.6,219.0 193.2,212.1 199.3,206.4C205.4,200.7 213.6,196.2 220.7,193.6C227.8,191.0 228.8,190.9 242.0,190.8C255.2,190.7 275.0,192.4 300.0,193.0C325.0,193.6 362.0,194.2 392.0,194.2C422.0,194.2 453.2,193.5 480.0,193.0C506.8,192.5 530.0,191.8 553.0,191.4C576.0,191.0 602.4,191.0 617.9,190.8C633.4,190.6 636.8,189.2 645.7,190.4C654.6,191.6 663.6,194.2 671.5,197.9C679.4,201.7 686.5,206.5 692.9,212.9C699.3,219.3 705.9,228.7 710.0,236.5C714.1,244.3 716.2,253.2 717.6,260.0C719.0,266.8 718.5,271.9 718.2,277.2C717.9,282.5 716.2,276.6 715.6,292.0C715.0,307.4 714.8,331.2 714.8,369.4C714.8,407.6 715.4,465.9 715.7,521.0C716.0,576.1 716.7,657.7 716.6,700.0C716.5,742.3 716.5,756.4 715.4,775.0C714.3,793.6 713.0,800.8 710.0,811.5C707.0,822.2 702.9,830.7 697.2,839.3C691.5,847.9 684.4,856.8 675.8,862.9C667.2,869.0 656.1,872.9 645.7,875.8C635.3,878.6 627.9,879.0 613.6,880.0C599.3,881.0 588.9,881.7 560.0,881.8C531.1,881.9 475.0,881.1 440.0,880.6C405.0,880.1 378.3,879.5 350.0,879.0C321.7,878.5 289.1,878.6 270.0,877.9C250.9,877.2 246.8,877.2 235.7,874.7C224.6,872.2 212.5,868.8 203.6,862.9C194.7,857.0 187.6,848.6 182.2,839.3C176.8,830.0 173.9,817.9 171.4,807.2C168.9,796.5 168.1,792.9 167.1,775.0C166.1,757.1 166.6,742.3 165.5,700.0C164.4,657.7 160.8,580.2 160.7,521.0C160.6,461.8 163.8,382.1 165.0,345.0ZM182.2,350.0C181.8,312.9 181.5,312.5 182.2,298.6C182.9,284.7 183.9,275.8 186.4,266.5C188.9,257.2 192.5,250.1 197.2,242.9C201.8,235.8 207.9,229.0 214.3,223.6C220.7,218.2 226.4,214.1 235.7,210.7C245.0,207.3 250.9,203.9 270.0,203.2C289.1,202.5 329.7,205.9 350.0,206.4C370.3,206.9 370.3,206.3 392.0,206.3C413.7,206.3 453.2,206.2 480.0,206.2C506.8,206.1 530.7,206.5 553.0,206.0C575.3,205.5 598.1,202.8 613.6,203.2C629.1,203.6 636.1,205.6 645.7,208.6C655.4,211.6 664.4,216.4 671.5,221.4C678.6,226.4 684.0,231.8 688.6,238.6C693.2,245.4 696.9,253.6 699.3,262.2C701.7,270.8 702.8,272.1 703.2,290.0C703.7,307.9 703.1,330.9 702.0,369.4C700.9,407.9 697.0,465.9 696.4,521.0C695.8,576.1 697.2,657.7 698.3,700.0C699.4,742.3 703.0,757.9 703.2,775.0C703.4,792.1 701.7,794.0 699.3,802.9C696.9,811.8 693.2,820.8 688.6,828.6C684.0,836.5 677.9,844.5 671.5,850.0C665.1,855.5 657.9,859.2 650.0,861.8C642.1,864.4 639.3,864.9 624.3,865.5C609.3,866.1 590.7,865.7 560.0,865.5C529.3,865.3 475.0,864.5 440.0,864.4C405.0,864.2 376.9,864.4 350.0,864.6C323.1,864.8 295.9,865.6 278.6,865.5C261.4,865.4 256.1,865.5 246.5,864.0C236.8,862.5 228.6,860.2 220.7,856.5C212.8,852.8 205.0,847.6 199.3,841.5C193.6,835.4 189.3,829.3 186.4,820.0C183.5,810.7 182.7,802.4 181.7,785.7C180.7,769.0 180.1,764.1 180.5,720.0C180.9,675.9 184.0,582.7 184.3,521.0C184.6,459.3 182.5,387.1 182.2,350.0Z"/>
<path fill="#1d71c6" fill-rule="evenodd" d="M979.7,359.4C979.3,320.3 977.9,306.8 978.2,288.6C978.5,270.4 979.1,260.7 981.4,250.0C983.7,239.3 986.8,232.5 992.2,224.3C997.6,216.1 1004.7,207.5 1013.6,200.7C1022.5,193.9 1034.6,187.2 1045.7,183.6C1056.8,180.0 1061.0,180.5 1080.0,179.3C1099.0,178.2 1139.5,177.2 1160.0,176.7C1180.5,176.2 1183.0,176.2 1203.0,176.2C1223.0,176.2 1256.5,176.1 1280.0,176.7C1303.5,177.3 1328.2,178.4 1344.3,179.7C1360.4,181.0 1367.2,182.3 1376.5,184.7C1385.8,187.1 1392.9,190.2 1400.0,194.3C1407.1,198.4 1413.9,203.2 1419.3,209.3C1424.7,215.4 1428.8,222.8 1432.2,230.7C1435.6,238.6 1437.9,246.8 1439.7,256.5C1441.5,266.1 1442.3,271.5 1443.3,288.6C1444.3,305.8 1444.8,320.3 1445.5,359.4C1446.2,398.5 1447.7,466.2 1447.3,523.0C1446.9,579.8 1443.5,658.0 1443.0,700.0C1442.5,742.0 1444.4,757.1 1444.0,775.0C1443.6,792.9 1443.1,797.6 1440.8,807.2C1438.5,816.9 1434.7,825.0 1430.0,832.9C1425.3,840.8 1420.0,848.2 1412.9,854.3C1405.8,860.4 1396.9,865.5 1387.2,869.3C1377.5,873.0 1372.9,875.2 1355.0,876.8C1337.1,878.4 1303.3,879.0 1280.0,879.0C1256.7,879.0 1235.0,877.5 1215.0,877.0C1195.0,876.5 1182.5,875.6 1160.0,875.8C1137.5,875.9 1098.3,877.5 1080.0,877.9C1061.7,878.2 1059.3,879.0 1050.0,877.9C1040.7,876.8 1032.5,875.1 1024.3,871.5C1016.1,867.9 1007.1,862.9 1000.7,856.5C994.3,850.1 989.3,841.1 985.7,832.9C982.1,824.7 980.6,816.9 979.3,807.2C977.9,797.6 977.8,792.9 977.6,775.0C977.4,757.1 977.5,742.0 978.0,700.0C978.5,658.0 980.4,579.8 980.7,523.0C981.0,466.2 980.1,398.5 979.7,359.4ZM991.7,359.4C990.9,320.3 989.8,305.8 990.0,288.6C990.2,271.5 991.1,265.8 993.2,256.5C995.4,247.2 998.1,240.4 1002.9,232.9C1007.7,225.4 1014.4,217.3 1022.2,211.4C1030.0,205.5 1040.4,200.8 1050.0,197.5C1059.6,194.2 1061.7,193.0 1080.0,191.7C1098.3,190.4 1139.5,189.9 1160.0,189.6C1180.5,189.3 1183.0,190.1 1203.0,190.0C1223.0,189.9 1257.2,188.7 1280.0,189.0C1302.8,189.3 1324.6,189.9 1340.0,191.7C1355.4,193.5 1362.9,196.4 1372.2,199.7C1381.5,203.0 1389.0,206.6 1395.8,211.4C1402.6,216.2 1408.3,222.2 1412.9,228.6C1417.5,235.0 1420.9,242.8 1423.6,250.0C1426.3,257.1 1427.8,263.3 1429.0,271.5C1430.2,279.7 1430.5,284.7 1430.7,299.3C1430.9,313.9 1430.5,322.1 1430.0,359.4C1429.5,396.7 1427.9,466.2 1428.0,523.0C1428.1,579.8 1430.2,659.8 1430.7,700.0C1431.2,740.2 1431.6,748.2 1431.1,764.3C1430.6,780.4 1429.9,787.2 1427.9,796.5C1425.9,805.8 1423.2,812.5 1419.3,820.0C1415.4,827.5 1410.4,835.4 1404.3,841.5C1398.2,847.6 1391.1,852.8 1382.9,856.5C1374.7,860.2 1372.2,862.5 1355.0,864.0C1337.8,865.5 1303.3,865.5 1280.0,865.5C1256.7,865.5 1235.0,864.5 1215.0,864.3C1195.0,864.0 1181.1,863.7 1160.0,864.0C1138.9,864.3 1106.2,866.1 1088.6,866.1C1071.0,866.1 1063.9,865.6 1054.3,864.0C1044.7,862.4 1038.2,861.0 1030.7,856.5C1023.2,852.0 1015.0,845.4 1009.3,837.2C1003.6,829.0 999.2,817.6 996.4,807.2C993.5,796.8 992.8,792.9 992.2,775.0C991.6,757.1 992.3,742.0 992.8,700.0C993.2,658.0 995.1,579.8 994.9,523.0C994.7,466.2 992.5,398.5 991.7,359.4Z"/>

</svg>
</body></html>
